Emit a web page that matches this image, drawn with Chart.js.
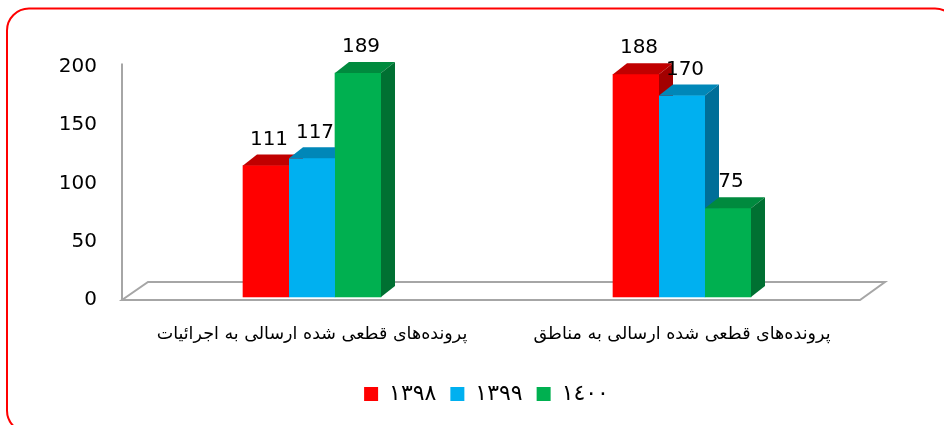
<!DOCTYPE html>
<html>
<head>
<meta charset="utf-8">
<script src="https://cdn.jsdelivr.net/npm/chart.js"></script>
<style>
    body { margin: 0; background: #fff; }
    #wrap { width: 944px; height: 425px; position: relative; }
</style>
</head>
<body>
<div id="wrap"><canvas id="chart"></canvas></div>
<script>
const categories = [
    'پرونده‌های قطعی شده ارسالی به اجرائیات',
    'پرونده‌های قطعی شده ارسالی به مناطق'
];
const seriesNames = ['١٣٩٨', '١٣٩٩', '١٤٠٠'];
const values1398 = [111, 188];
const values1399 = [117, 170];
const values1400 = [189, 75];
const tickValues = [0, 50, 100, 150, 200];

// front / top / side colours for the fake 3d bars
const faceColors = [
    { front: '#FF0000', top: '#C00000', side: '#A30000' },
    { front: '#00B0F0', top: '#0087B8', side: '#006E98' },
    { front: '#00B050', top: '#008A3E', side: '#007032' }
];
const DEPTH_X = 14;
const DEPTH_Y = -11;

const bars3d = {
    id: 'bars3d',
    afterLayout(chart) {
        // legend sits centred under the whole frame, not under the padded box
        chart.legend.left += 53;
        chart.legend.right += 53;
    },
    beforeDraw(chart) {
        const ctx = chart.ctx;
        ctx.save();
        ctx.strokeStyle = '#FF0000';
        ctx.lineWidth = 2;
        ctx.beginPath();
        ctx.roundRect(7, 8.5, 950, 424, 22);
        ctx.stroke();
        ctx.restore();
    },
    beforeDatasetsDraw(chart) {
        const ctx = chart.ctx;
        const area = chart.chartArea;
        const y = chart.scales.y;
        const front = y.getPixelForValue(0);
        const left = area.left - 5;
        const right = area.right - 7;
        ctx.save();
        ctx.strokeStyle = '#A6A6A6';
        ctx.lineWidth = 2;
        // floor
        ctx.beginPath();
        ctx.moveTo(left, front);
        ctx.lineTo(right, front);
        ctx.lineTo(right + 25, front - 18);
        ctx.lineTo(left + 26, front - 18);
        ctx.closePath();
        ctx.stroke();
        // value axis line
        ctx.beginPath();
        ctx.moveTo(left, y.getPixelForValue(203));
        ctx.lineTo(left, front);
        ctx.stroke();
        ctx.restore();
    },
    afterDatasetsDraw(chart) {
        const ctx = chart.ctx;
        ctx.save();
        chart.data.datasets.forEach((ds, i) => {
            const meta = chart.getDatasetMeta(i);
            const c = faceColors[i];
            meta.data.forEach(bar => {
                const l = bar.x - bar.width / 2;
                const r = bar.x + bar.width / 2;
                const t = bar.y;
                const b = bar.base;
                ctx.fillStyle = c.front;
                ctx.fillRect(l, t, r - l, b - t);
                ctx.fillStyle = c.top;
                ctx.beginPath();
                ctx.moveTo(l, t);
                ctx.lineTo(l + DEPTH_X, t + DEPTH_Y);
                ctx.lineTo(r + DEPTH_X, t + DEPTH_Y);
                ctx.lineTo(r, t);
                ctx.closePath();
                ctx.fill();
                ctx.fillStyle = c.side;
                ctx.beginPath();
                ctx.moveTo(r, t);
                ctx.lineTo(r + DEPTH_X, t + DEPTH_Y);
                ctx.lineTo(r + DEPTH_X, b + DEPTH_Y);
                ctx.lineTo(r, b);
                ctx.closePath();
                ctx.fill();
            });
        });
        // value labels
        ctx.fillStyle = '#000';
        ctx.font = '20px "DejaVu Sans"';
        ctx.textAlign = 'center';
        ctx.textBaseline = 'middle';
        chart.data.datasets.forEach((ds, i) => {
            chart.getDatasetMeta(i).data.forEach((bar, j) => {
                ctx.fillText(ds.data[j], bar.x + 3, bar.y - 26);
            });
        });
        ctx.restore();
    }
};

new Chart(document.getElementById('chart'), {
    type: 'bar',
    data: {
        labels: categories,
        datasets: seriesNames.map((name, i) => ({
            label: name,
            data: [values1398, values1399, values1400][i],
            backgroundColor: faceColors[i].front,
            yAxisID: 'yb',
            barThickness: 46
        }))
    },
    options: {
        responsive: true,
        maintainAspectRatio: false,
        animation: false,
        layout: { padding: { left: 0, right: 77, top: 60, bottom: 10 } },
        scales: {
            x: {
                grid: { display: false, drawTicks: false },
                border: { display: false },
                ticks: {
                    padding: 24,
                    color: '#000',
                    font: { family: 'DejaVu Sans', size: 17.5 }
                },
                afterFit: (scale) => { scale.height = 69; }
            },
            y: {
                position: 'left',
                min: 0,
                max: 206,
                grid: { display: false, drawTicks: false },
                border: { display: false },
                ticks: {
                    padding: 30,
                    color: '#000',
                    font: { family: 'DejaVu Sans', size: 20 }
                },
                afterBuildTicks: (scale) => {
                    scale.ticks = tickValues.map(v => ({ value: v }));
                },
                afterFit: (scale) => { scale.width = 127; }
            },
            yb: {
                display: false,
                min: -2.5,
                max: 200
            }
        },
        plugins: {
            legend: {
                position: 'bottom',
                labels: {
                    boxWidth: 14,
                    boxHeight: 14,
                    padding: 14,
                    color: '#000',
                    font: { family: 'DejaVu Sans', size: 22 }
                }
            },
            tooltip: { enabled: false }
        }
    },
    plugins: [bars3d]
});
</script>
</body>
</html>
